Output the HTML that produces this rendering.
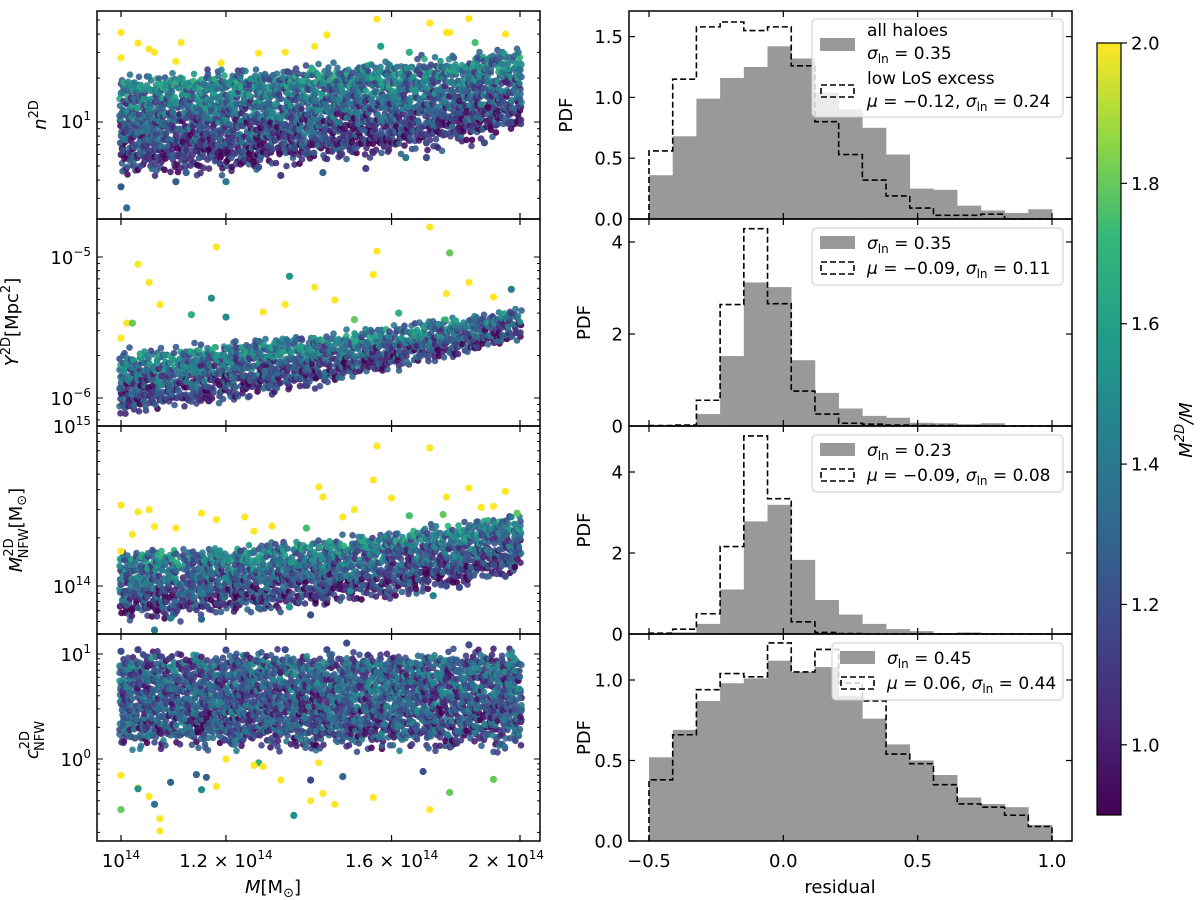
<!DOCTYPE html>
<html><head><meta charset="utf-8"><title>Mass proxies scatter and residual histograms</title>
<style>
body{margin:0;background:#fff;}
svg{display:block;font-family:"DejaVu Sans","Liberation Sans",sans-serif;}
text{fill:#000;}
</style></head>
<body>
<svg id="fig" width="1200" height="900" viewBox="0 0 1200 900" xmlns="http://www.w3.org/2000/svg">
<defs>
<linearGradient id="vir" x1="0" y1="1" x2="0" y2="0">
<stop offset="0" stop-color="#440154"/><stop offset="0.125" stop-color="#482878"/>
<stop offset="0.25" stop-color="#3e4989"/><stop offset="0.375" stop-color="#31688e"/>
<stop offset="0.5" stop-color="#26828e"/><stop offset="0.625" stop-color="#1f9e89"/>
<stop offset="0.75" stop-color="#35b779"/><stop offset="0.875" stop-color="#90d743"/>
<stop offset="1" stop-color="#fde725"/>
</linearGradient>
<clipPath id="c0"><rect x="97" y="11" width="443" height="208"/></clipPath>
<clipPath id="c1"><rect x="97" y="219" width="443" height="207"/></clipPath>
<clipPath id="c2"><rect x="97" y="426" width="443" height="208"/></clipPath>
<clipPath id="c3"><rect x="97" y="634" width="443" height="207"/></clipPath>
</defs>
<g id="layer"></g>
</svg>
<script>
// ---------- data ----------
const massGrid = [1.0, 1.2, 1.4, 1.6, 1.8, 2.0]; // in 1e14 Msun
const bandLowN = [5.0, 5.5, 6.2, 7.0, 8.0, 10];
const bandHighN = [18, 19.5, 21, 23, 25, 27];
const bandLowY = [0.8, 1.05, 1.3, 1.65, 2.1, 2.7];   // 1e-6 Mpc^2
const bandHighY = [1.9, 2.2, 2.6, 3.0, 3.5, 4.0];
const bandLowMn = [0.68, 0.74, 0.82, 0.95, 1.1, 1.35]; // 1e14
const bandHighMn = [1.5, 1.6, 1.75, 2.0, 2.3, 2.6];
const bandLowC = [1.6, 1.6, 1.6, 1.6, 1.6, 1.6];
const bandHighC = [8.5, 8.5, 8.5, 8.5, 8.5, 8.5];
// outliers: [mass(1e14), value, colour value M2D/M]
const outN = [[1.0,41,2],[1.03,34.7,2],[1.05,31.6,2],[1.06,30,2],[1.11,35,2],[1.0,27.5,2],[1.56,50.6,2],[1.71,47.6,2],[1.83,51,2],[1.95,40,2],[1.40,33,2],[1.43,39.5,2],[1.33,30,2],[1.27,29.6,2],[1.19,25.4,2],[1.10,26,2],[1.76,41,2],[1.77,41,2],[1.85,35,1.75],[1.57,33,1.6],[1.65,30,1.7],
[1.01,2.58,1.35],[1.2,3.9,1.4],[1.0,3.6,1.25],[1.1,3.9,1.25],[1.32,4.3,1.15],[1.42,4.5,1.3],[1.53,4.8,1.15],[1.64,5.7,1.4],[1.7,5.7,1.2],[1.7,7.2,1.2],[1.88,7.2,1.2],[1.96,9.8,1.15],[1.12,4.5,1.3],[1.27,4.9,1.2]];
const outY = [[1.71,16.3,2],[1.18,11.8,2],[1.56,11,2],[1.77,10.7,1.8],[1.03,8.9,2],[1.55,7.5,2],[1.34,7.3,1.55],[1.05,6.6,2],[1.40,6.1,2],[1.17,5.1,1.5],[1.07,4.6,2],[1.83,6.6,2],[1.76,5.5,2],[1.97,5.9,1.4],[1.45,4.95,2],[1.33,4.6,2],[1.28,4.07,2],[1.01,3.4,2],[1.02,3.4,1.8],[1.0,2.66,2],[1.2,3.75,1.5],[1.13,3.9,1.7],[1.91,5.2,2],[1.62,4.0,1.7],[1.5,3.6,1.8]];
const outMn = [[1.56,7.5,2],[1.71,7.3,2],[1.55,4.6,2],[1.41,4.16,2],[1.42,3.6,2],[1.83,4.1,2],[1.95,3.9,2],[1.76,3.6,2],[1.6,3.55,2],[1.0,3.2,2],[1.05,3.0,2],[1.03,2.9,2],[1.15,2.85,2],[1.24,2.7,2],[1.18,2.6,2],[1.06,2.35,2],[1.5,3.0,2],[1.47,2.7,2],[1.87,3.1,2],[1.91,3.15,2],[1.3,2.37,2],[1.0,1.65,2],[1.02,2.1,2],[1.1,2.3,2],[1.26,2.2,2],
[1.99,2.85,1.8],[1.75,2.8,1.8],[1.65,2.75,1.75],[1.38,2.3,1.75],
[1.06,0.53,1.4],[1.09,0.63,1.45],[1.15,0.62,1.3],[1.39,0.66,1.2],[1.34,0.74,1.55],[1.27,0.73,1.3],[1.42,0.84,1.2],[1.72,0.87,1.45],[1.49,0.93,1.5],[1.76,1.0,1.2],[1.8,0.98,1.2],[1.95,1.15,1.2]];
const outC = [[1.07,0.206,2],[1.07,0.27,2],[1.35,0.29,1.5],[1.0,0.33,1.8],[1.05,0.44,2],[1.06,0.37,1.35],[1.03,0.53,2],[1.03,0.52,1.55],[1.15,0.51,1.5],[1.18,0.55,2],[1.32,0.63,2],[1.39,0.40,2],[1.42,0.47,2],[1.45,0.37,2],[1.55,0.43,2],[1.71,0.33,2],[1.77,0.48,1.8],[1.91,0.64,1.8],[1.0,0.7,2],[1.41,0.92,2],[1.27,0.92,1.7],[1.28,0.85,2],[1.26,0.87,2],[1.2,1.0,2],[1.39,0.63,1.15],[1.47,0.68,1.3],[1.69,0.76,1.2],[1.14,0.71,1.3],[1.16,0.67,1.3],[1.09,0.6,1.3],
[1.48,12.7,1.2],[1.83,12.2,1.2],[1.0,10.6,1.2],[1.03,11,1.15],[1.2,10.9,1.2],[1.33,11,1.2],[1.43,11,1.2]];
// histograms: 17 bins from -0.5 to 1.0
const binEdgesLo = -0.5, binEdgesHi = 1.0, nBins = 17;
const histAll1 = [0.36,0.68,0.99,1.16,1.25,1.42,1.32,1.04,0.9,0.75,0.53,0.25,0.24,0.11,0.07,0.05,0.08];
const histLow1 = [0.56,1.15,1.58,1.62,1.55,1.58,1.26,0.80,0.53,0.32,0.19,0.09,0.03,0.03,0.04,0,0];
const histAll2 = [0,0.02,0.26,1.52,3.12,3.02,1.43,0.72,0.38,0.22,0.18,0.07,0.06,0.04,0.06,0.01,0];
const histLow2 = [0.01,0.02,0.56,2.64,4.29,2.66,0.76,0.26,0.06,0.04,0.02,0.01,0.01,0,0,0,0];
const histAll3 = [0.005,0.04,0.25,1.1,2.78,3.19,1.83,0.84,0.48,0.25,0.12,0.07,0.02,0.04,0.01,0.01,0];
const histLow3 = [0.02,0.12,0.5,2.16,4.89,3.34,0.3,0.04,0.01,0,0,0,0,0,0,0,0];
const histAll4 = [0.52,0.69,0.87,0.98,1.01,1.12,1.05,1.08,0.9,0.76,0.60,0.50,0.41,0.27,0.23,0.21,0.10];
const histLow4 = [0.38,0.66,0.94,1.04,1.02,1.23,1.05,1.19,0.98,0.87,0.54,0.48,0.35,0.23,0.21,0.16,0.09];
const cbarTicks = [1.0, 1.2, 1.4, 1.6, 1.8, 2.0];

// ---------- helpers ----------
const NS = "http://www.w3.org/2000/svg";
const root = document.getElementById('layer');
function mk(tag, attrs, parent) {
  const e = document.createElementNS(NS, tag);
  for (const k in attrs) e.setAttribute(k, attrs[k]);
  (parent || root).appendChild(e);
  return e;
}
const L10 = Math.log10;
function xM(m) { return 121 + L10(m) / L10(2) * 399; }
function xR(r) { return 649 + (r + 0.5) * (403 / 1.5); }
const leftY = [
  v => 122 - 146 * (L10(v) - 1),
  v => 398 - 141 * (L10(v * 1e-6) + 6),
  v => 586 - 160 * L10(v),
  v => 759 - 105 * L10(v)
];
const rightY = [
  v => 219 - 121.6 * v,
  v => 426 - 46 * v,
  v => 634 - 40.5 * v,
  v => 841 - 161 * v
];
const vstops = [[0,[68,1,84]],[0.125,[72,40,120]],[0.25,[62,73,137]],[0.375,[49,104,142]],[0.5,[38,130,142]],[0.625,[31,158,137]],[0.75,[53,183,121]],[0.875,[144,215,67]],[1,[253,231,37]]];
function viridis(v) {
  let t = Math.max(0, Math.min(1, (v - 0.9) / 1.1));
  for (let i = 1; i < vstops.length; i++) {
    if (t <= vstops[i][0]) {
      const a = vstops[i-1], b = vstops[i], f = (t - a[0]) / (b[0] - a[0]);
      const c = a[1].map((x, k) => Math.round(x + (b[1][k] - x) * f));
      return `rgb(${c[0]},${c[1]},${c[2]})`;
    }
  }
  return '#fde725';
}
function interpLog(arr, m) {
  const lm = L10(m);
  for (let i = 1; i < massGrid.length; i++) {
    if (m <= massGrid[i] + 1e-9) {
      const f = (lm - L10(massGrid[i-1])) / (L10(massGrid[i]) - L10(massGrid[i-1]));
      return Math.pow(10, L10(arr[i-1]) + f * (L10(arr[i]) - L10(arr[i-1])));
    }
  }
  return arr[arr.length - 1];
}
function hsh(i, j) { let h = (i * 374761393 + j * 668265263) >>> 0; h = ((h ^ (h >>> 13)) * 1274126177) >>> 0; return (h ^ (h >>> 16)) >>> 0; }
function txt(x, y, s, opts, parent) {
  const t = mk('text', Object.assign({x: x, y: y, 'font-size': 18}, opts || {}), parent);
  t.innerHTML = s;
  return t;
}

// ---------- left scatter panels ----------
const tops = [11, 219, 426, 634], bots = [219, 426, 634, 841];
const bands = [[bandLowN, bandHighN], [bandLowY, bandHighY], [bandLowMn, bandHighMn], [bandLowC, bandHighC]];
const outs = [outN, outY, outMn, outC];
const panelNames = ['n2d', 'y2d', 'mnfw2d', 'cnfw2d'];
for (let p = 0; p < 4; p++) {
  const g = mk('g', {'clip-path': `url(#c${p})`});
  
  
  const yf = leftY[p];
  const [lo, hi] = bands[p];
  let i = 0;
  for (let px = xM(1.0); px <= xM(2.0) + 0.1; px += 3.5, i++) {
    const m = Math.pow(2, (px - 121) / 399);
    const y0 = yf(interpLog(lo, m)), y1 = yf(interpLog(hi, m));
    const span = y0 - y1;
    const ext = span * 0.22;
    let j = 0;
    for (let py = y0 + ext; py >= y1 - ext * 0.6; py -= 3.5, j++) {
      const h = hsh(i, j + p * 1000);
      const jx = ((h % 7) - 3) * 0.5, jy = (((h >> 3) % 7) - 3) * 0.5;
      let keep;
      if (py > y0) keep = (h % 100) < 100 * (1 - (py - y0) / ext) * 0.55;
      else if (py < y1) keep = (h % 100) < 100 * (1 - (y1 - py) / (ext * 0.6)) * 0.55;
      else keep = (h % 13) !== 0;
      if (!keep) continue;
      const t = Math.max(0, Math.min(1, (y0 - py) / Math.max(1, span)));
      const noise = (((h >> 6) % 9) - 4) * 0.035;
      const v = (p === 3 ? 1.3 + 0.1 * t : 1.18 + 0.38 * t) + noise;
      mk('circle', {cx: (px + jx).toFixed(1), cy: (py + jy).toFixed(1), r: 3.3, fill: viridis(v), 'fill-opacity': 0.9}, g);
    }
  }
  outs[p].forEach(d => {
    const c = mk('circle', {cx: xM(d[0]).toFixed(1), cy: leftY[p](d[1]).toFixed(1), r: 3.6, fill: viridis(d[2])}, g);
    
    
  });
  const fr = mk('rect', {x: 97, y: tops[p], width: 443, height: bots[p] - tops[p], fill: 'none', stroke: '#000', 'stroke-width': 1.5});
  
  
  [1.0, 1.2, 1.6, 2.0].forEach(m => {
    const x = xM(m);
    mk('line', {x1: x, x2: x, y1: bots[p], y2: bots[p] - 6, stroke: '#000', 'stroke-width': 1.2});
    mk('line', {x1: x, x2: x, y1: tops[p], y2: tops[p] + 6, stroke: '#000', 'stroke-width': 1.2});
  });
  for (let d = -8; d <= 16; d++) {
    for (let k = 1; k <= 9; k++) {
      let v = k * Math.pow(10, d);
      let y;
      if (p === 1) y = 398 - 141 * (L10(v) + 6);
      else if (p === 2) y = 586 - 160 * (L10(v) - 14);
      else y = yf(v);
      if (y < tops[p] - 0.5 || y > bots[p] + 0.5) continue;
      const len = k === 1 ? 6 : 3;
      mk('line', {x1: 97, x2: 97 + len, y1: y, y2: y, stroke: '#000', 'stroke-width': 1});
      mk('line', {x1: 540, x2: 540 - len, y1: y, y2: y, stroke: '#000', 'stroke-width': 1});
    }
  }
}
txt(91, 128, '10<tspan dy="-8" font-size="12">1</tspan>', {'text-anchor': 'end'});
txt(91, 264, '10<tspan dy="-8" font-size="12">−5</tspan>', {'text-anchor': 'end'});
txt(91, 405, '10<tspan dy="-8" font-size="12">−6</tspan>', {'text-anchor': 'end'});
txt(91, 433, '10<tspan dy="-8" font-size="12">15</tspan>', {'text-anchor': 'end'});
txt(91, 593, '10<tspan dy="-8" font-size="12">14</tspan>', {'text-anchor': 'end'});
txt(91, 661, '10<tspan dy="-8" font-size="12">1</tspan>', {'text-anchor': 'end'});
txt(91, 766, '10<tspan dy="-8" font-size="12">0</tspan>', {'text-anchor': 'end'});
txt(xM(1.0), 867, '10<tspan dy="-8" font-size="12">14</tspan>', {'text-anchor': 'middle'});
txt(xM(1.2), 867, '1.2 × 10<tspan dy="-8" font-size="12">14</tspan>', {'text-anchor': 'middle'});
txt(xM(1.6), 867, '1.6 × 10<tspan dy="-8" font-size="12">14</tspan>', {'text-anchor': 'middle'});
txt(xM(2.0), 867, '2 × 10<tspan dy="-8" font-size="12">14</tspan>', {'text-anchor': 'end', dx: 24});
const xl = txt(273, 893, '<tspan font-style="italic">M</tspan>[M<tspan dy="4" font-size="13">⊙</tspan><tspan dy="-4">]</tspan>', {'text-anchor': 'middle'});


const yl1 = txt(0, 0, '<tspan font-style="italic">n</tspan><tspan dy="-8" font-size="13">2D</tspan>', {transform: 'translate(46,115) rotate(-90)', 'text-anchor': 'middle'});


const yl2 = txt(0, 0, '<tspan font-style="italic">Y</tspan><tspan dy="-8" font-size="13">2D</tspan><tspan dy="8">[Mpc</tspan><tspan dy="-8" font-size="13">2</tspan><tspan dy="8">]</tspan>', {transform: 'translate(18,322) rotate(-90)', 'text-anchor': 'middle'});


const yl3 = txt(0, 0, '<tspan font-style="italic">M</tspan><tspan dy="-9" font-size="13">2D</tspan><tspan dx="-20" dy="15" font-size="13">NFW</tspan><tspan dy="-6">[M</tspan><tspan dy="4" font-size="13">⊙</tspan><tspan dy="-4">]</tspan>', {transform: 'translate(22,530) rotate(-90)', 'text-anchor': 'middle'});


const yl4 = txt(0, 0, '<tspan font-style="italic">c</tspan><tspan dy="-9" font-size="13">2D</tspan><tspan dx="-20" dy="15" font-size="13">NFW</tspan>', {transform: 'translate(38,740) rotate(-90)', 'text-anchor': 'middle'});



// ---------- right histogram panels ----------
const allH = [histAll1, histAll2, histAll3, histAll4];
const lowH = [histLow1, histLow2, histLow3, histLow4];
const yTicksR = [[0, 0.5, 1.0, 1.5], [0, 2, 4], [0, 2, 4], [0, 0.5, 1.0]];
const yLabR = [['0.0','0.5','1.0','1.5'], ['0','2','4'], ['0','2','4'], ['0.0','0.5','1.0']];
const bw = (binEdgesHi - binEdgesLo) / nBins;
for (let p = 0; p < 4; p++) {
  const yf = rightY[p];
  const g = mk('g', {});
  
  
  allH[p].forEach((h, i) => {
    const x0 = xR(binEdgesLo + i * bw), x1 = xR(binEdgesLo + (i + 1) * bw);
    const r = mk('rect', {x: x0.toFixed(2), y: yf(h).toFixed(2), width: (x1 - x0 + 0.3).toFixed(2), height: (yf(0) - yf(h)).toFixed(2), fill: '#999999'}, g);
    
    
  });
  let d = `M${xR(binEdgesLo).toFixed(2)},${yf(0).toFixed(2)}`;
  lowH[p].forEach((h, i) => {
    const x0 = xR(binEdgesLo + i * bw), x1 = xR(binEdgesLo + (i + 1) * bw);
    d += ` L${x0.toFixed(2)},${yf(h).toFixed(2)} L${x1.toFixed(2)},${yf(h).toFixed(2)}`;
  });
  d += ` L${xR(binEdgesHi).toFixed(2)},${yf(0).toFixed(2)}`;
  const st = mk('path', {d: d, fill: 'none', stroke: '#000', 'stroke-width': 1.6, 'stroke-dasharray': '6,3'}, g);
  
  
  mk('rect', {x: 629, y: tops[p], width: 443, height: bots[p] - tops[p], fill: 'none', stroke: '#000', 'stroke-width': 1.5}, g);
  [-0.5, 0, 0.5, 1.0].forEach(r => {
    mk('line', {x1: xR(r), x2: xR(r), y1: bots[p], y2: bots[p] - 6, stroke: '#000', 'stroke-width': 1.2}, g);
    mk('line', {x1: xR(r), x2: xR(r), y1: tops[p], y2: tops[p] + 6, stroke: '#000', 'stroke-width': 1.2}, g);
  });
  yTicksR[p].forEach((v, k) => {
    const y = yf(v);
    mk('line', {x1: 629, x2: 635, y1: y, y2: y, stroke: '#000', 'stroke-width': 1.2}, g);
    mk('line', {x1: 1072, x2: 1066, y1: y, y2: y, stroke: '#000', 'stroke-width': 1.2}, g);
    txt(623, y + 6.5, yLabR[p][k], {'text-anchor': 'end'}, g);
  });
  const pl = txt(0, 0, 'PDF', {transform: `translate(${p === 0 ? 572 : 590},${(tops[p] + bots[p]) / 2}) rotate(-90)`, 'text-anchor': 'middle'}, g);
  
  
}
['−0.5', '0.0', '0.5', '1.0'].forEach((s, i) => txt(xR(-0.5 + 0.5 * i), 867, s, {'text-anchor': 'middle'}));
const rl = txt(840, 893, 'residual', {'text-anchor': 'middle'});



// ---------- legends ----------
const sig = '<tspan font-style="italic">σ</tspan><tspan dy="4" font-size="12">ln</tspan><tspan dy="-4"> = </tspan>';
const mu = '<tspan font-style="italic">μ</tspan> = ';
function legend(x, y, w, h, rows) {
  const g = mk('g', {});
  
  
  mk('rect', {x: x, y: y, width: w, height: h, rx: 4, fill: '#fff', 'fill-opacity': 0.8, stroke: '#ccc'}, g);
  rows.forEach(r => {
    if (r.type === 'fill') mk('rect', {x: x + 8, y: r.hy, width: 35, height: 13, fill: '#999999'}, g);
    if (r.type === 'dash') mk('rect', {x: x + 9, y: r.hy, width: 33, height: 12, fill: 'none', stroke: '#000', 'stroke-width': 1.6, 'stroke-dasharray': '6,3'}, g);
    r.lines.forEach(l => txt(x + 55, l[0], l[1], {'font-size': 17}, g));
  });
}
legend(812, 19, 251, 98, [
  {type: 'fill', hy: 38, lines: [[36, 'all haloes'], [59, sig + '0.35']]},
  {type: 'dash', hy: 85, lines: [[84, 'low LoS excess'], [107, mu + '−0.12, ' + sig + '0.24']]}
]);
legend(812, 228, 251, 57, [
  {type: 'fill', hy: 236, lines: [[249, sig + '0.35']]},
  {type: 'dash', hy: 262, lines: [[274, mu + '−0.09, ' + sig + '0.11']]}
]);
legend(812, 435, 251, 57, [
  {type: 'fill', hy: 443, lines: [[456, sig + '0.23']]},
  {type: 'dash', hy: 469, lines: [[481, mu + '−0.09, ' + sig + '0.08']]}
]);
legend(832, 643, 231, 57, [
  {type: 'fill', hy: 651, lines: [[664, sig + '0.45']]},
  {type: 'dash', hy: 677, lines: [[689, mu + '0.06, ' + sig + '0.44']]}
]);

// ---------- colorbar ----------
const cb = mk('g', {});


const cbY = v => 815 - (v - 0.9) / 1.1 * (815 - 43);
mk('rect', {x: 1097, y: 43, width: 24, height: 772, fill: 'url(#vir)', stroke: '#000', 'stroke-width': 1.2}, cb);
cbarTicks.forEach(v => {
  const y = cbY(v);
  mk('line', {x1: 1121, x2: 1127, y1: y, y2: y, stroke: '#000', 'stroke-width': 1.2}, cb);
  txt(1131, y + 6.5, v.toFixed(1), {}, cb);
});
const cl = txt(0, 0, '<tspan font-style="italic">M</tspan><tspan dy="-8" font-size="13" font-style="italic">2D</tspan><tspan dy="8" font-style="italic">/M</tspan>', {transform: 'translate(1192,430) rotate(-90)', 'text-anchor': 'middle'}, cb);


</script>
</body></html>
